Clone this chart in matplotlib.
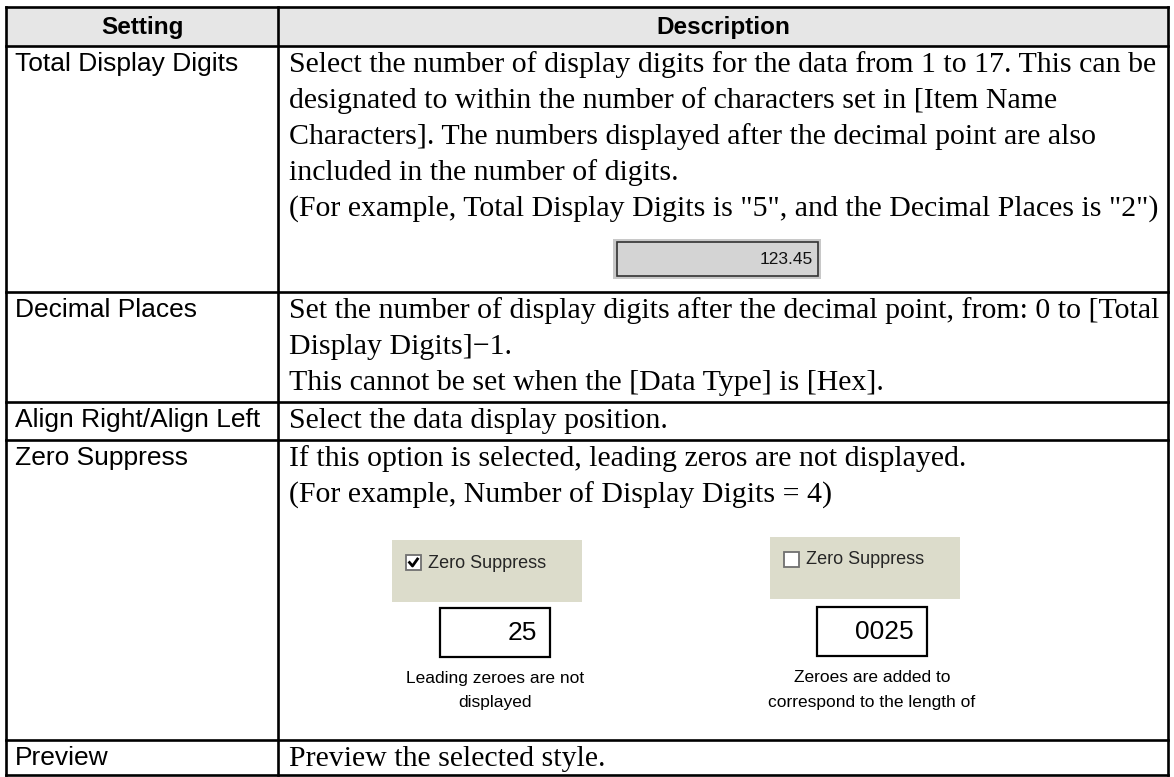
import matplotlib.pyplot as plt
from matplotlib.patches import Rectangle

# table content
HEADERS = ["Setting", "Description"]
SETTINGS = ["Total Display Digits", "Decimal Places", "Align Right/Align Left",
            "Zero Suppress", "Preview"]
DESCRIPTIONS = [
    ["Select the number of display digits for the data from 1 to 17. This can be",
     "designated to within the number of characters set in [Item Name",
     "Characters]. The numbers displayed after the decimal point are also",
     "included in the number of digits.",
     "(For example, Total Display Digits is \"5\", and the Decimal Places is \"2\")"],
    ["Set the number of display digits after the decimal point, from: 0 to [Total",
     "Display Digits]\u22121.",
     "This cannot be set when the [Data Type] is [Hex]."],
    ["Select the data display position."],
    ["If this option is selected, leading zeros are not displayed.",
     "(For example, Number of Display Digits = 4)"],
    ["Preview the selected style."],
]
SAMPLE_VALUE = "123.45"
CHECKBOX_LABEL = "Zero Suppress"
SUPPRESS_VALUES = ["25", "0025"]
SUPPRESS_STATES = [True, False]
SUPPRESS_CAPTIONS = [["Leading zeroes are not", "displayed"],
                     ["Zeroes are added to", "correspond to the length of"]]

# layout in pixels
W, H = 1174, 777
COL_EDGES = [6, 278, 1168]
ROW_EDGES = [7, 46, 292, 402, 440, 740, 775]
LINE_STEP = 36
SANS = "Liberation Sans"
SERIF = "Liberation Serif"

fig = plt.figure(figsize=(W / 100, H / 100), dpi=100)
ax = fig.add_axes([0, 0, 1, 1])
ax.set_xlim(0, W)
ax.set_ylim(H, 0)
ax.axis("off")

# header band
ax.add_patch(Rectangle((COL_EDGES[0], ROW_EDGES[0]), COL_EDGES[-1] - COL_EDGES[0],
                       ROW_EDGES[1] - ROW_EDGES[0], facecolor="#e6e6e6", edgecolor="none"))
header_y = (ROW_EDGES[0] + ROW_EDGES[1]) / 2
for i, label in enumerate(HEADERS):
    ax.text((COL_EDGES[i] + COL_EDGES[i + 1]) / 2, header_y + 1, label, family=SANS,
            weight="bold", fontsize=17.5, ha="center", va="center")

# rows
for r, (setting, lines) in enumerate(zip(SETTINGS, DESCRIPTIONS)):
    top = ROW_EDGES[r + 1]
    ax.text(15, top + 18, setting, family=SANS, fontsize=19, ha="left", va="center")
    for k, line in enumerate(lines):
        ax.text(289, top + 19 + k * LINE_STEP, line, family=SERIF, fontsize=21.5,
                ha="left", va="center")

# grid lines
for y in ROW_EDGES:
    ax.plot([COL_EDGES[0], COL_EDGES[-1]], [y, y], color="black", lw=1.9,
            solid_capstyle="projecting")
for x in COL_EDGES:
    ax.plot([x, x], [ROW_EDGES[0], ROW_EDGES[-1]], color="black", lw=1.9,
            solid_capstyle="projecting")

# sample display field (123.45)
ax.add_patch(Rectangle((613, 239), 208, 40, facecolor="#c8c8c8", edgecolor="none"))
ax.add_patch(Rectangle((617, 242), 201, 34, facecolor="#d4d4d4", edgecolor="#333333", lw=1.2))
ax.text(813, 259, SAMPLE_VALUE, family=SANS, fontsize=12.5, ha="right", va="center",
        color="#111111")

# zero suppress examples
panels = [(392, 540), (770, 537)]
boxes = [(440, 608), (817, 607)]
for (px, py), (bx, by), state, value, caption in zip(panels, boxes, SUPPRESS_STATES,
                                                     SUPPRESS_VALUES, SUPPRESS_CAPTIONS):
    ax.add_patch(Rectangle((px, py), 190, 62, facecolor="#dcdccb", edgecolor="none"))
    cx, cy = px + 14, py + 15
    ax.add_patch(Rectangle((cx, cy), 15, 15, facecolor="white", edgecolor="#707070", lw=1.3))
    if state:
        ax.plot([cx + 3.5, cx + 6.5, cx + 11.5], [cy + 7.5, cy + 11, cy + 4], color="black",
                lw=2.0)
    ax.text(cx + 22, cy + 8, CHECKBOX_LABEL, family=SANS, fontsize=13, ha="left",
            va="center", color="#262626")
    ax.add_patch(Rectangle((bx, by), 110, 49, facecolor="white", edgecolor="black", lw=1.6))
    ax.text(bx + 97, by + 25, value, family=SANS, fontsize=19, ha="right", va="center")
    for k, cap in enumerate(caption):
        ax.text(bx + 55, by + 71 + k * 24, cap, family=SANS, fontsize=12.5, ha="center",
                va="center")

fig.savefig("out.png", dpi=100, facecolor="white")
